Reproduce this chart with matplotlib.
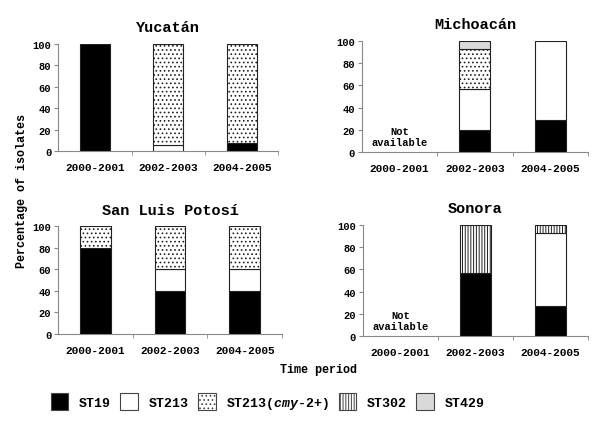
import numpy as np
import matplotlib
matplotlib.use("Agg")
import matplotlib.pyplot as plt
from matplotlib.patches import Patch

plt.rcParams['font.family'] = ['Liberation Mono', 'DejaVu Sans']
plt.rcParams['font.weight'] = 'bold'
plt.rcParams['mathtext.fontset'] = 'custom'
plt.rcParams['mathtext.it'] = 'Liberation Mono:italic:bold'
plt.rcParams['mathtext.rm'] = 'Liberation Mono:bold'
plt.rcParams['hatch.linewidth'] = 0.7

periods = ["2000-2001", "2002-2003", "2004-2005"]
types = ["ST19", "ST213", "ST213(cmy-2+)", "ST302", "ST429"]

# percentage of isolates per type, per period
yucatan = {"ST19": [100, 0, 8], "ST213": [0, 6, 0], "ST213(cmy-2+)": [0, 94, 92],
           "ST302": [0, 0, 0], "ST429": [0, 0, 0]}
michoacan = {"ST19": [0, 20, 29], "ST213": [0, 37, 71], "ST213(cmy-2+)": [0, 36, 0],
             "ST302": [0, 0, 0], "ST429": [0, 7, 0]}
slp = {"ST19": [80, 40, 40], "ST213": [0, 20, 20], "ST213(cmy-2+)": [20, 40, 40],
       "ST302": [0, 0, 0], "ST429": [0, 0, 0]}
sonora = {"ST19": [0, 57, 27], "ST213": [0, 0, 66], "ST213(cmy-2+)": [0, 0, 0],
          "ST302": [0, 43, 7], "ST429": [0, 0, 0]}

styles = {
    "ST19": dict(facecolor="black", hatch=None),
    "ST213": dict(facecolor="white", hatch=None),
    "ST213(cmy-2+)": dict(facecolor="white", hatch="...."),
    "ST302": dict(facecolor="white", hatch="||||||"),
    "ST429": dict(facecolor="#d9d9d9", hatch=None),
}

panels = [
    ("Yucatán", yucatan, [0.097, 0.647, 0.367, 0.249], False),
    ("Michoacán", michoacan, [0.603, 0.645, 0.377, 0.258], True),
    ("San Luis Potosí", slp, [0.097, 0.223, 0.373, 0.250], False),
    ("Sonora", sonora, [0.605, 0.218, 0.375, 0.258], True),
]

fig = plt.figure(figsize=(6, 4.31), dpi=100)
x = np.arange(len(periods))
for title, data, rect, missing in panels:
    ax = fig.add_axes(rect)
    bottom = np.zeros(len(periods))
    for t in types:
        vals = np.array(data[t], dtype=float)
        keep = vals > 0
        st = styles[t]
        ax.bar(x[keep], vals[keep], 0.41, bottom=bottom[keep], facecolor=st["facecolor"],
               hatch=st["hatch"], edgecolor="#222222", linewidth=0.8)
        bottom += vals
    if missing:
        ax.text(0, 14, "Not\navailable", ha="center", va="center",
                fontsize=7.5, fontweight="bold", linespacing=1.2)
    ax.set_xlim(-0.5, 2.5)
    ax.set_ylim(0, 100)
    ax.set_yticks([0, 20, 40, 60, 80, 100])
    ax.set_xticks(x)
    ax.set_xticklabels(periods)
    ax.set_xticks([0.5, 1.5, 2.5], minor=True)
    ax.tick_params(axis="x", which="major", length=0, pad=8, labelsize=8)
    ax.tick_params(axis="x", which="minor", length=3, color="#888888")
    ax.tick_params(axis="y", length=3, color="#888888", labelsize=7.5, pad=2)
    for lab in ax.get_xticklabels() + ax.get_yticklabels():
        lab.set_fontweight("bold")
    for s in ["top", "right"]:
        ax.spines[s].set_visible(False)
    for s in ["left", "bottom"]:
        ax.spines[s].set_color("#888888")
        ax.spines[s].set_linewidth(0.8)
    ax.set_title(title, fontsize=11, fontweight="bold", pad=9)

fig.text(0.53, 0.142, "Time period", ha="center", va="center",
         fontsize=8.5, fontweight="bold")
fig.text(0.037, 0.556, "Percentage of isolates", ha="center", va="center",
         rotation=90, fontsize=8.5, fontweight="bold")

labels = ["ST19", "ST213", r"ST213($\mathit{cmy}$-$\mathit{2}$+)", "ST302", "ST429"]
handles = [Patch(facecolor=styles[t]["facecolor"], hatch=styles[t]["hatch"],
                 edgecolor="#444444", linewidth=0.8) for t in types]
fig.legend(handles, labels, loc="center", bbox_to_anchor=(0.446, 0.065), ncol=5,
           frameon=False, handlelength=1.35, handleheight=1.6,
           handletextpad=0.8, columnspacing=0.7, prop={"weight": "bold", "size": 9.5})

fig.savefig("out.png", dpi=100)
